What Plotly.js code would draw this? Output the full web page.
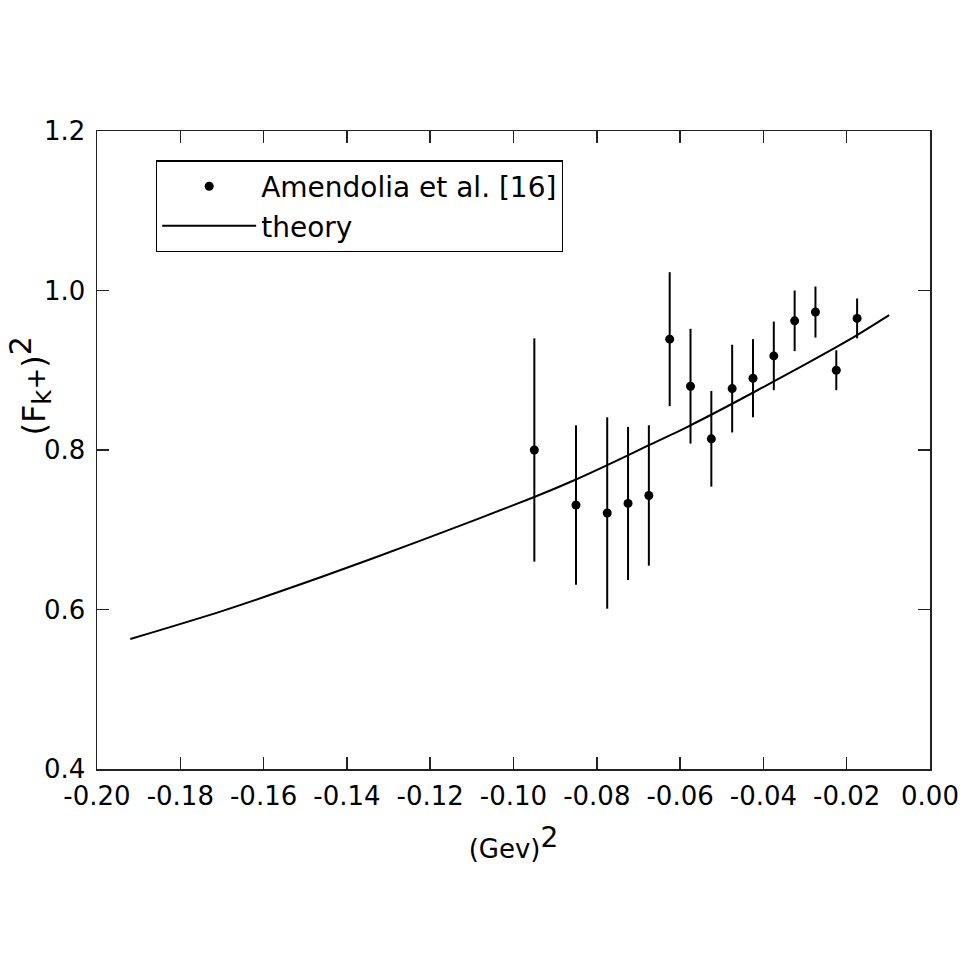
<!DOCTYPE html>
<html>
<head>
<meta charset="utf-8">
<script src="https://cdn.plot.ly/plotly-3.0.1.min.js"></script>
<style>html,body{margin:0;padding:0;background:#fff;}#chart{width:969px;height:969px;}</style>
</head>
<body>
<div id="chart"></div>
<script>
// Experimental data (Amendolia et al. [16])
var qData = [-0.095, -0.085, -0.0775, -0.0725, -0.0675, -0.0625, -0.0575, -0.0525, -0.0475, -0.0425, -0.0375, -0.0325, -0.0275, -0.0225, -0.0175];
var fData = [0.800, 0.731, 0.721, 0.733, 0.743, 0.939, 0.880, 0.814, 0.877, 0.890, 0.918, 0.962, 0.973, 0.900, 0.965];
var errData = [0.140, 0.100, 0.120, 0.096, 0.088, 0.084, 0.072, 0.060, 0.055, 0.049, 0.043, 0.038, 0.032, 0.025, 0.025];

// Theory curve
var qTheory = [-0.192, -0.170, -0.146, -0.122, -0.095, -0.085, -0.0775, -0.0675, -0.0575, -0.0475, -0.0375, -0.0225, -0.0175, -0.0098];
var fTheory = [0.563, 0.598, 0.641, 0.687, 0.741, 0.763, 0.781, 0.806, 0.831, 0.858, 0.886, 0.929, 0.944, 0.969];

var xTickVals = [-0.20, -0.18, -0.16, -0.14, -0.12, -0.10, -0.08, -0.06, -0.04, -0.02, 0.00];
var xTickText = ['-0.20', '-0.18', '-0.16', '-0.14', '-0.12', '-0.10', '-0.08', '-0.06', '-0.04', '-0.02', '0.00'];
var yTickVals = [0.4, 0.6, 0.8, 1.0, 1.2];
var yTickText = ['0.4', '0.6', '0.8', '1.0', '1.2'];

var FONT = 'DejaVu Sans, Liberation Sans, Arial, sans-serif';

var traces = [
  {
    x: qData, y: fData, type: 'scatter', mode: 'markers',
    name: 'Amendolia et al. [16]',
    marker: {color: '#000', size: 9},
    error_y: {type: 'data', array: errData, visible: true, color: '#000', thickness: 2, width: 0}
  },
  {
    x: qTheory, y: fTheory, type: 'scatter', mode: 'lines',
    name: 'theory',
    line: {color: '#000', width: 2, shape: 'spline', smoothing: 0.7}
  }
];

var axisCommon = {
  showgrid: false, zeroline: false, showline: true, linecolor: '#222', linewidth: 1.5,
  mirror: 'ticks', ticks: 'inside', ticklen: 12, tickwidth: 1.5, tickcolor: '#222'
};

var layout = {
  width: 969, height: 969,
  paper_bgcolor: '#fff', plot_bgcolor: '#fff',
  margin: {l: 97, r: 39, t: 131, b: 200},
  showlegend: true,
  legend: {
    x: 0.0708, y: 0.954, xanchor: 'left', yanchor: 'top',
    bordercolor: '#000', borderwidth: 1.2, bgcolor: '#fff',
    font: {family: FONT, size: 28, color: '#000'},
    itemwidth: 94, tracegroupgap: 0
  },
  xaxis: Object.assign({}, axisCommon, {
    range: [-0.2, 0], tickmode: 'array', tickvals: xTickVals, ticktext: xTickText,
    tickfont: {family: FONT, size: 26, color: '#000'}, ticklabelstandoff: 3,
    title: {text: '(Gev)<sup><span style="font-size:28px">2</span></sup>', font: {family: FONT, size: 26, color: '#000'}, standoff: 30}
  }),
  yaxis: Object.assign({}, axisCommon, {
    range: [0.4, 1.2], tickmode: 'array', tickvals: yTickVals, ticktext: yTickText,
    tickfont: {family: FONT, size: 26, color: '#000'}, ticklabelstandoff: 5
  }),
  annotations: [{
    text: '(F<sub><span style="font-size:26px">k</span></sub><span style="font-size:26px">+</span>)<sup><span style="font-size:30px">2</span></sup>',
    xref: 'paper', yref: 'paper',
    x: -0.080, y: 0.600, xanchor: 'center', yanchor: 'middle', textangle: -90,
    showarrow: false, font: {family: FONT, size: 32, color: '#000'}
  }]
};

Plotly.newPlot('chart', traces, layout, {displayModeBar: false, staticPlot: true});
</script>
</body>
</html>
